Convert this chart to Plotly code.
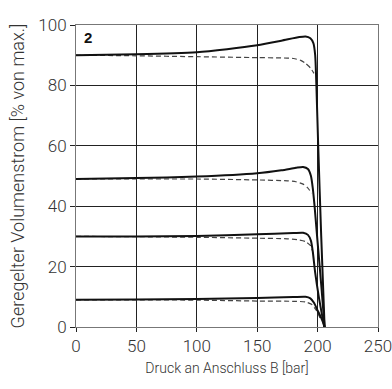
import plotly.graph_objects as go

# Solid curves (geregelt)
s1_x = [0, 50, 100, 125, 150, 170, 185, 190, 194, 196.5, 198, 199, 200.5, 203, 205.8]
s1_y = [90, 90.3, 91, 92, 93.3, 94.8, 96, 96.2, 95.6, 94, 90, 80, 60, 30, 0]
s2_x = [0, 50, 100, 150, 170, 182, 188, 192, 194.5, 196, 197.5, 200, 203, 205.8]
s2_y = [49, 49.3, 49.8, 50.9, 51.9, 52.7, 53, 52.3, 50, 46, 40, 28, 14, 0]
s3_x = [0, 50, 100, 150, 180, 188, 192, 194.5, 196, 198, 201, 205.5]
s3_y = [30, 30, 30.1, 30.7, 31.1, 31.2, 30.5, 28.5, 25, 18, 10, 0]
s4_x = [0, 50, 100, 150, 180, 190, 194, 197, 200, 203, 206]
s4_y = [9, 9.1, 9.3, 9.6, 9.9, 10, 9.5, 8, 5.5, 3, 0]

# Dashed curves
d1_x = [0, 50, 100, 150, 170, 180, 186, 190, 194, 197]
d1_y = [90, 89.8, 89.5, 89.2, 89.1, 88.9, 88.3, 87.3, 85.8, 84]
d2_x = [0, 50, 100, 150, 175, 182, 188, 192, 195]
d2_y = [49, 49, 49, 48.7, 48.4, 48.1, 47.3, 46, 44.3]
d3_x = [0, 50, 100, 150, 175, 185, 190, 194, 196]
d3_y = [30, 29.9, 29.7, 29.4, 29.2, 28.8, 28.3, 27, 25]
d4_x = [0, 50, 100, 150, 180, 190, 195, 199, 202]
d4_y = [9, 9, 8.9, 8.6, 8.5, 8.3, 7.5, 5.5, 3]

x_ticks = [0, 50, 100, 150, 200, 250]
y_ticks = [0, 20, 40, 60, 80, 100]

fig = go.Figure()
for xs, ys in [(d1_x, d1_y), (d2_x, d2_y), (d3_x, d3_y), (d4_x, d4_y)]:
    fig.add_trace(go.Scatter(x=xs, y=ys, mode="lines",
                             line=dict(color="#444", width=1.2, dash="5px,3px", shape="spline", smoothing=0.6),
                             showlegend=False, hoverinfo="skip"))
for xs, ys in [(s1_x, s1_y), (s2_x, s2_y), (s3_x, s3_y), (s4_x, s4_y)]:
    fig.add_trace(go.Scatter(x=xs, y=ys, mode="lines",
                             line=dict(color="#111", width=2, shape="spline", smoothing=0.6),
                             showlegend=False, hoverinfo="skip"))

tickfont = dict(family="Roboto, Liberation Sans, sans-serif", size=17, color="#333", weight=300)
fig.update_layout(
    width=392, height=389,
    margin=dict(l=76, r=14, t=25, b=62),
    paper_bgcolor="white", plot_bgcolor="white",
    font=dict(family="Roboto, Liberation Sans, sans-serif", color="#333"),
    xaxis=dict(range=[0, 250], tickvals=x_ticks, showgrid=True, gridcolor="#222", gridwidth=1,
               showline=True, linecolor="#777", linewidth=1, mirror=True,
               ticks="outside", ticklen=4, tickcolor="#222", tickfont=tickfont,
               ticklabeloverflow="allow", zeroline=False, automargin=False,
               title=dict(text="Druck an Anschluss B [bar]",
                          font=dict(size=14, color="#333", weight=300), standoff=7)),
    yaxis=dict(range=[0, 100], tickvals=y_ticks, showgrid=True, gridcolor="#222", gridwidth=1,
               showline=True, linecolor="#777", linewidth=1, mirror=True,
               ticks="outside", ticklen=5, tickcolor="#222", tickfont=tickfont,
               zeroline=False, automargin=False,
               title=dict(text="Geregelter Volumenstrom [% von max.]",
                          font=dict(size=18, color="#333", weight=300), standoff=9)),
    annotations=[dict(x=5, y=95.7, xref="x", yref="y", text="<b>2</b>", showarrow=False,
                      xanchor="left", yanchor="middle",
                      font=dict(family="Liberation Sans, Arial, sans-serif", size=15, color="#111"))],
)
fig.write_html("out.html", config={"displayModeBar": False},
               post_script="document.body.style.margin='0';document.body.style.overflow='hidden';")
